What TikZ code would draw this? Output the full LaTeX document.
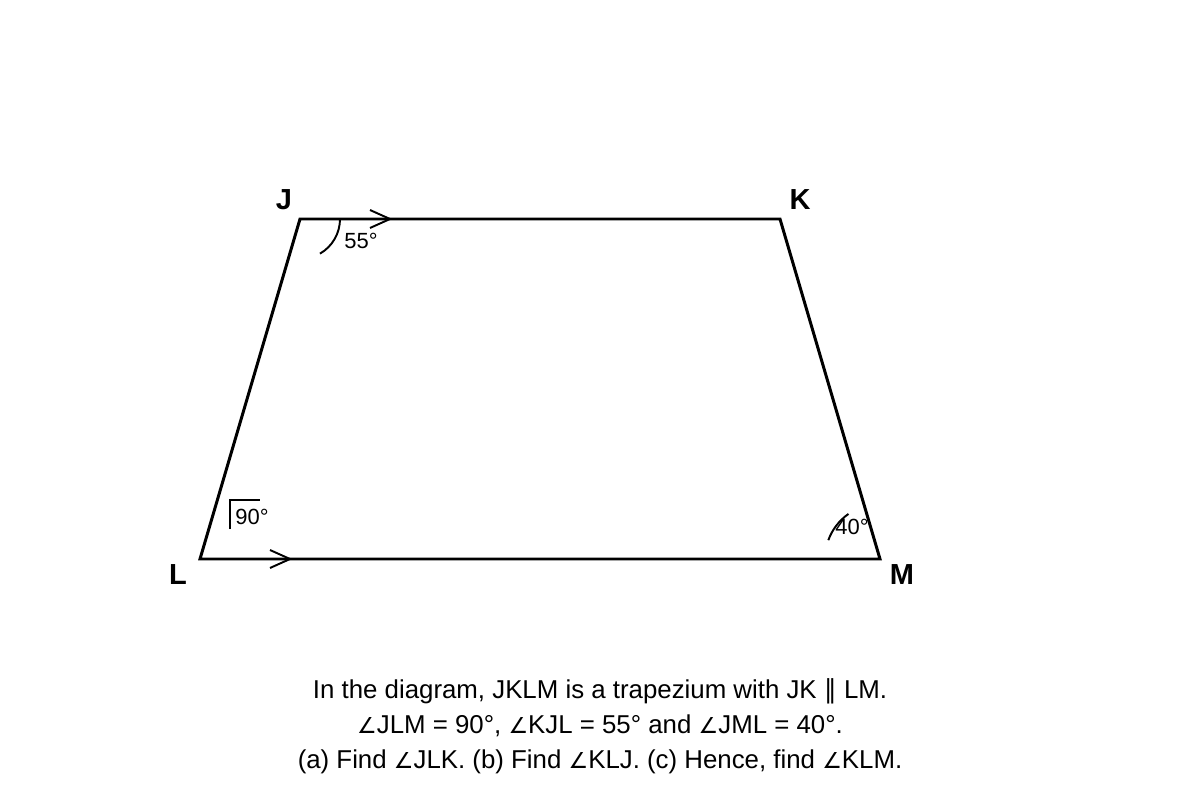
\documentclass[tikz,border=0pt]{standalone}
\usepackage{fontspec}
\setmainfont{Liberation Sans}
\newfontfamily\symfont{DejaVu Sans}
\newcommand{\ang}{{\symfont\fontsize{12.5}{19.8}\selectfont\symbol{"2220}}}
\newcommand{\parl}{{\symfont\symbol{"2225}}}
\begin{document}
\begin{tikzpicture}
        [   x = 0.02cm
        ,   y = -0.02cm
        ,   side/.style =
            {   line width = 1.7pt
            ,   line join = miter
            }
        ,   anglemark/.style = {line width = 1.1pt}
        ,   vertex/.style = {font = \bfseries\fontsize{16.5}{18}\selectfont}
        ,   angtext/.style =
            {   font = \fontsize{12.5}{14}\selectfont
            ,   inner sep = 0pt
            }
        ,   caption/.style =
            {   align = center
            ,   font = \fontsize{14.7}{19.8}\selectfont
            }
        ]
        \useasboundingbox (0,0) rectangle (1200,800);
        \coordinate (J) at (300,219);
        \coordinate (K) at (780,219);
        \coordinate (L) at (200,559);
        \coordinate (M) at (880,559);
        \draw[side] (J) -- (K) -- (M) -- (L) -- cycle;
        % parallel marks
        \draw[anglemark] (J) ++(70,-9) -- ++(20,9) -- ++(-20,9);
        \draw[anglemark] (L) ++(70,-9) -- ++(20,9) -- ++(-20,9);
        % angles
        \draw[anglemark] (J) ++(0:40) arc[start angle = 0, end angle = 60, radius = 40];
        \draw[anglemark] (L) ++(30,-30) -- ++(0,-29) -- ++(30,0);
        \draw[anglemark] (M) ++(200:55) arc[start angle = 200, end angle = 235, radius = 55];
        \node[angtext] (a55) at (361,241) {55°};
        \node[angtext] (a90) at (252,517) {90°};
        \node[angtext] (a40) at (852,527) {40°};
        \node[vertex] (nJ) at (284,200) {J};
        \node[vertex] (nK) at (800,200) {K};
        \node[vertex] (nL) at (178,575) {L};
        \node[vertex] (nM) at (902,575) {M};
        \node[caption] (q) at (600,726)
        {   In the diagram, JKLM is a trapezium with JK \parl\ LM.\\
            \ang JLM = 90°, \ang KJL = 55° and \ang JML = 40°.\\
            (a) Find \ang JLK. (b) Find \ang KLJ. (c) Hence, find \ang KLM.
        };
\end{tikzpicture}
\end{document}
